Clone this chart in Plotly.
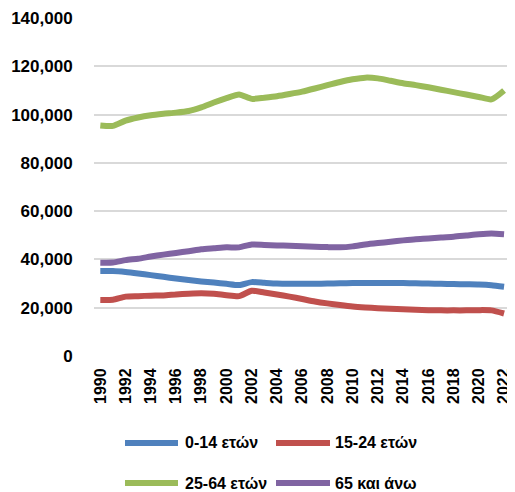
import plotly.graph_objects as go

years = list(range(1990, 2023))

age_0_14 = [35200, 35200, 34800, 34200, 33500, 32800, 32100, 31500, 30900, 30400,
            29900, 29400, 30600, 30300, 30000, 29900, 29900, 29900, 30000, 30100,
            30200, 30200, 30200, 30200, 30200, 30100, 30000, 29900, 29800, 29700,
            29600, 29300, 28700]
age_15_24 = [23200, 23300, 24600, 24800, 25000, 25100, 25500, 25800, 26000, 25800,
             25200, 24800, 27000, 26300, 25500, 24600, 23600, 22600, 21800, 21100,
             20500, 20100, 19800, 19600, 19400, 19200, 19000, 18900, 18900, 18900,
             19000, 18900, 17600]
age_25_64 = [95500, 95300, 97500, 98800, 99700, 100300, 100800, 101500, 103000, 105000,
             106800, 108300, 106500, 107000, 107600, 108500, 109500, 110800, 112200, 113500,
             114600, 115300, 115000, 114000, 113000, 112200, 111300, 110300, 109300, 108300,
             107300, 106300, 110000]
age_65_plus = [38650, 38700, 39700, 40300, 41200, 42000, 42700, 43400, 44200, 44600,
               45000, 45000, 46200, 46000, 45800, 45700, 45500, 45300, 45100, 45000,
               45400, 46200, 46800, 47300, 47900, 48400, 48700, 49100, 49400, 49900,
               50400, 50700, 50400]

series_names = ["0-14 ετών", "15-24 ετών", "25-64 ετών", "65 και άνω"]
series_values = [age_0_14, age_15_24, age_25_64, age_65_plus]
colors = ["#4F81BD", "#C0504D", "#9BBB59", "#8064A2"]

FONT = "Liberation Sans"

fig = go.Figure()
for name, vals, col in zip(series_names, series_values, colors):
    fig.add_trace(go.Scatter(
        x=years, y=vals, name=name, mode="lines",
        line=dict(color=col, width=6, shape="spline", smoothing=0.6),
        showlegend=False,
    ))

# Manual legend (2 x 2 grid) in paper coordinates (plot area = window px 94..511, 18..356)
PW, PH = 417.0, 338.0
def px_x(p):
    return (p - 94) / PW
def px_y(p):
    return (356 - p) / PH

legend_slots = [(125, 178, 183, 443), (276, 330, 333, 443),
                (125, 178, 183, 483), (276, 330, 333, 483)]
for (x0, x1, xt, yy), name, col in zip(legend_slots, series_names, colors):
    fig.add_shape(type="line", xref="paper", yref="paper",
                  x0=px_x(x0), x1=px_x(x1), y0=px_y(yy), y1=px_y(yy),
                  line=dict(color=col, width=6))
    fig.add_annotation(xref="paper", yref="paper", x=px_x(xt), y=px_y(yy),
                       xanchor="left", yanchor="middle", showarrow=False,
                       text="<b>" + name + "</b>",
                       font=dict(family=FONT, size=16, color="#000000"))

# The page body has an 8px default margin, so margins are shifted by 8px.
fig.update_layout(
    width=515, height=492,
    margin=dict(l=86, r=12, t=10, b=144, autoexpand=False),
    plot_bgcolor="white", paper_bgcolor="white",
    font=dict(family=FONT, size=15, color="#000000"),
    showlegend=False,
    xaxis=dict(
        range=[1989.5, 2022.55], tickmode="linear", tick0=1990, dtick=2,
        tickangle=-90, showgrid=False, zeroline=False, showline=False,
        ticks="outside", ticklen=5, tickcolor="rgba(0,0,0,0)", automargin=False,
        tickfont=dict(family=FONT, size=16, color="#000000", weight="bold"),
    ),
    yaxis=dict(
        range=[0, 140000], tickmode="linear", tick0=0, dtick=20000,
        tickformat=",d", showgrid=True, gridcolor="#D9D9D9", gridwidth=1.5,
        zeroline=False, showline=False, ticks="outside", ticklen=17,
        tickcolor="rgba(0,0,0,0)", automargin=False,
        tickfont=dict(family=FONT, size=17, color="#000000", weight="bold"),
    ),
)

fig.write_html("out.html")
